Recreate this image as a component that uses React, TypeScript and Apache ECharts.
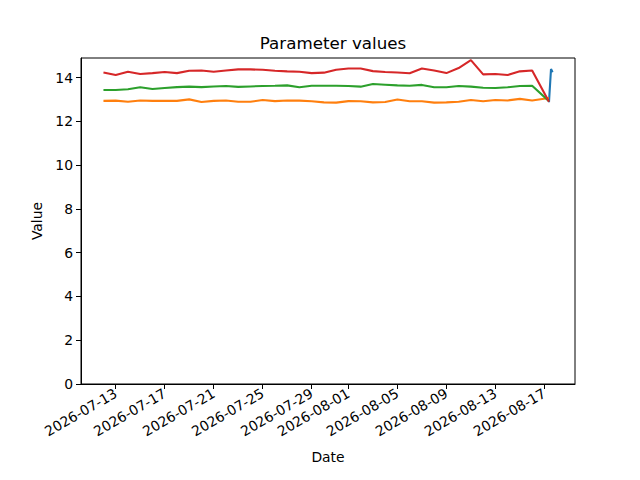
import React, { useEffect, useRef } from "react";
import * as echarts from "echarts";

const dates: string[] = [
  "2026-07-12", "2026-07-13", "2026-07-14", "2026-07-15", "2026-07-16", "2026-07-17",
  "2026-07-18", "2026-07-19", "2026-07-20", "2026-07-21", "2026-07-22", "2026-07-23",
  "2026-07-24", "2026-07-25", "2026-07-26", "2026-07-27", "2026-07-28", "2026-07-29",
  "2026-07-30", "2026-07-31", "2026-08-01", "2026-08-02", "2026-08-03", "2026-08-04",
  "2026-08-05", "2026-08-06", "2026-08-07", "2026-08-08", "2026-08-09", "2026-08-10",
  "2026-08-11", "2026-08-12", "2026-08-13", "2026-08-14", "2026-08-15", "2026-08-16",
  "2026-08-17T09:00:00Z",
];

const orangeValues: number[] = [
  12.94, 12.95, 12.9, 12.96, 12.94, 12.94, 12.94, 13.01, 12.89, 12.94, 12.96, 12.9,
  12.9, 12.98, 12.93, 12.96, 12.95, 12.92, 12.87, 12.86, 12.93, 12.92, 12.87, 12.89,
  13.0, 12.92, 12.92, 12.86, 12.87, 12.9, 12.98, 12.92, 12.98, 12.96, 13.03, 12.96,
  13.07,
];

const greenValues: number[] = [
  13.44, 13.44, 13.47, 13.56, 13.48, 13.53, 13.57, 13.59, 13.57, 13.6, 13.62, 13.58,
  13.6, 13.62, 13.63, 13.65, 13.56, 13.63, 13.63, 13.63, 13.62, 13.59, 13.71, 13.68,
  13.65, 13.63, 13.67, 13.56, 13.56, 13.62, 13.59, 13.54, 13.53, 13.56, 13.62, 13.63,
  12.93,
];

const redValues: number[] = [
  14.24, 14.12, 14.27, 14.17, 14.21, 14.26, 14.21, 14.32, 14.33, 14.27, 14.33, 14.38,
  14.38, 14.36, 14.32, 14.29, 14.27, 14.21, 14.23, 14.36, 14.42, 14.42, 14.3, 14.26,
  14.24, 14.2, 14.42, 14.33, 14.21, 14.44, 14.8, 14.15, 14.17, 14.12, 14.29, 14.33,
  12.9,
];

const blueDates: string[] = ["2026-08-17T09:00:00Z", "2026-08-17T13:00:00Z", "2026-08-17T16:00:00Z"];
const blueValues: number[] = [12.88, 14.4, 14.25];

const xTickDates: string[] = [
  "2026-07-13", "2026-07-17", "2026-07-21", "2026-07-25", "2026-07-29",
  "2026-08-01", "2026-08-05", "2026-08-09", "2026-08-13", "2026-08-17",
];
const yTicks: number[] = [0, 2, 4, 6, 8, 10, 12, 14];

const xMin = "2026-07-10T04:00:00Z";
const xMax = "2026-08-19T12:00:00Z";
const yMax = 14.9;

const ts = (s: string) => new Date(s.length === 10 ? s + "T00:00:00Z" : s).getTime();
const pad = (n: number) => (n < 10 ? "0" + n : "" + n);
const fmt = (v: number) => {
  const d = new Date(v);
  return d.getUTCFullYear() + "-" + pad(d.getUTCMonth() + 1) + "-" + pad(d.getUTCDate());
};

const FONT = "DejaVu Sans";

export default function App() {
  const ref = useRef<HTMLDivElement>(null);
  useEffect(() => {
    if (!ref.current) return;
    const chart = echarts.init(ref.current, undefined, { renderer: "svg" });
    const mk = (ds: string[], vs: number[]) => ds.map((d, i) => [ts(d), vs[i]]);
    const line = (name: string, color: string, data: any[]) => ({
      name,
      type: "line",
      data,
      showSymbol: false,
      symbol: "none",
      lineStyle: { color, width: 2.1 },
      itemStyle: { color },
      z: 2,
    });
    const xTicks = xTickDates.map(ts);
    chart.setOption({
      animation: false,
      backgroundColor: "#ffffff",
      title: {
        text: "Parameter values",
        left: 328,
        top: 29,
        textAlign: "center",
        textStyle: { fontFamily: FONT, fontSize: 16.7, fontWeight: "normal", color: "#000" },
      },
      grid: {
        left: 81,
        right: 65,
        top: 58,
        bottom: 96,
        show: true,
        borderColor: "#000",
        borderWidth: 1,
        backgroundColor: "transparent",
      },
      xAxis: {
        type: "value",
        min: ts(xMin),
        max: ts(xMax),
        name: "Date",
        nameLocation: "middle",
        nameGap: 66,
        nameTextStyle: { fontFamily: FONT, fontSize: 13.9, color: "#000" },
        axisLine: { show: true, lineStyle: { color: "#000", width: 1 } },
        axisTick: {
          show: true,
          inside: false,
          length: 5,
          lineStyle: { color: "#000", width: 1 },
          customValues: xTicks,
        },
        axisLabel: {
          show: true,
          rotate: 30,
          margin: 8,
          fontFamily: FONT,
          fontSize: 13.9,
          color: "#000",
          customValues: xTicks,
          formatter: (v: number) => fmt(v),
        },
        splitLine: { show: false },
      },
      yAxis: {
        type: "value",
        min: 0,
        max: yMax,
        name: "Value",
        nameLocation: "middle",
        nameGap: 36,
        nameTextStyle: { fontFamily: FONT, fontSize: 13.9, color: "#000" },
        axisLine: { show: true, lineStyle: { color: "#000", width: 1 } },
        axisTick: {
          show: true,
          inside: false,
          length: 5,
          lineStyle: { color: "#000", width: 1 },
          customValues: yTicks,
        },
        axisLabel: {
          show: true,
          margin: 8,
          fontFamily: FONT,
          fontSize: 13.9,
          color: "#000",
          customValues: yTicks,
        },
        splitLine: { show: false },
      },
      series: [
        line("blue", "#1f77b4", mk(blueDates, blueValues)),
        line("orange", "#ff7f0e", mk(dates, orangeValues)),
        line("green", "#2ca02c", mk(dates, greenValues)),
        line("red", "#d62728", mk(dates, redValues)),
      ],
    });
    return () => chart.dispose();
  }, []);
  return (
    <div
      ref={ref}
      style={{ position: "fixed", left: 0, top: 0, width: 640, height: 480, background: "#fff" }}
    />
  );
}
